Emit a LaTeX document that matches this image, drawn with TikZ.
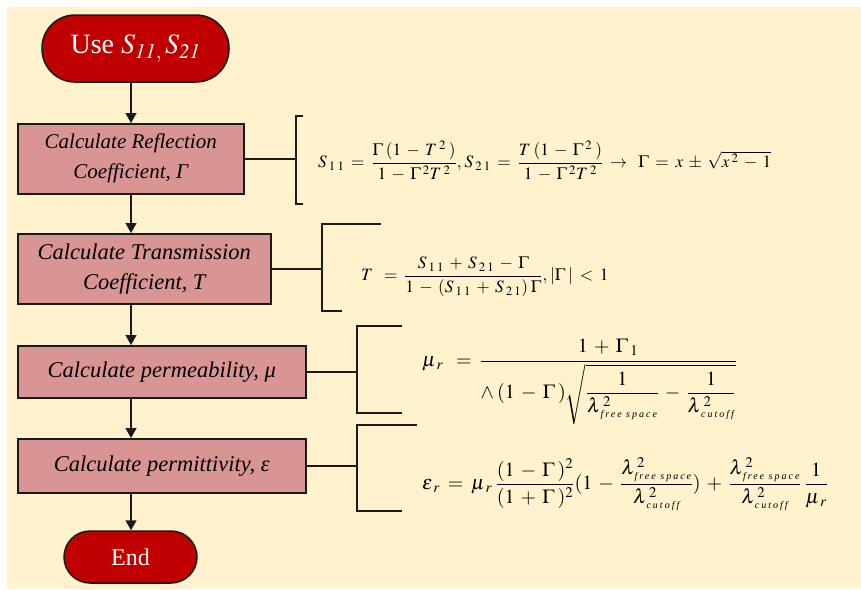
\documentclass[tikz,border=0pt]{standalone}
\usepackage{amsmath}
\usepackage{mathptmx}
\usepackage[no-math]{fontspec}
\setmainfont{Liberation Serif}
\usetikzlibrary{arrows.meta, positioning, calc}
\definecolor{termred}{HTML}{C00000}
\definecolor{boxpink}{HTML}{D99594}
\definecolor{cream}{HTML}{FFF2CC}
\definecolor{edge}{HTML}{1A1A1A}
\newcommand{\lsub}[1]{\text{\fontsize{10}{10}\selectfont\itshape\addfontfeature{LetterSpace=20}#1}}
\newcommand{\wideops}{\thickmuskip=7mu plus 2mu\medmuskip=5.5mu plus 2mu\thinmuskip=3mu}

\begin{document}
\begin{tikzpicture}[
      x=1pt, y=-1pt,
      term/.style={rectangle, draw=edge, line width=1.5pt, fill=termred, text=white,
                   inner sep=0pt, font=\fontsize{28}{30}\selectfont},
      box/.style={rectangle, draw=edge, line width=1.5pt, fill=boxpink, align=center,
                  inner sep=0pt, anchor=north west, font=\itshape\fontsize{22.5}{30}\selectfont},
      eqn/.style={anchor=west, inner sep=0pt, font=\fontsize{17.3}{20}\selectfont\wideops},
      bigeqn/.style={eqn, font=\fontsize{20}{22}\selectfont\wideops},
      arr/.style={-{Triangle[length=10pt,width=11pt]}, line width=1.5pt, edge},
      link/.style={line width=1.5pt, edge}
    ]
      \fill[cream] (7,7) rectangle (861,589);
      \useasboundingbox (0,0) rectangle (861,589);

      % flow column
      \node[term, minimum width=187pt, minimum height=67pt, rounded corners=33pt] (start) at (135.5,48.5)
        {Use $S_{\mathit{11},}\,S_{\mathit{21}}$};
      \node[box, minimum width=226pt, minimum height=70pt, font=\itshape\fontsize{21}{30}\selectfont] (refl) at (17,123)
        {Calculate Reflection\\Coefficient, Γ};
      \node[box, minimum width=253pt, minimum height=70pt] (trans) at (17,233)
        {Calculate Transmission\\Coefficient, T};
      \node[box, minimum width=288pt, minimum height=52pt] (perm) at (17,345)
        {Calculate permeability, μ};
      \node[box, minimum width=288pt, minimum height=54pt] (pmtv) at (17,438)
        {Calculate permittivity, ε};
      \node[term, minimum width=133pt, minimum height=52pt, rounded corners=26pt,
            font=\fontsize{24}{26}\selectfont] (stop) at (130.5,557) {End};

      \coordinate (spine) at (131,0);
      \draw[arr] (start.south -| spine) -- (refl.north -| spine);
      \draw[arr] (refl.south -| spine) -- (trans.north -| spine);
      \draw[arr] (trans.south -| spine) -- (perm.north -| spine);
      \draw[arr] (perm.south -| spine) -- (pmtv.north -| spine);
      \draw[arr] (pmtv.south -| spine) -- (stop.north -| spine);

      % brackets
      \coordinate (k1t) at (296,116); \coordinate (k1b) at (296,204);
      \coordinate (k2t) at (322,224); \coordinate (k2b) at (322,311);
      \coordinate (k3t) at (357,326); \coordinate (k3b) at (357,413);
      \coordinate (k4t) at (357,425); \coordinate (k4b) at (357,511);
      \draw[link] (refl.east) -- (refl.east -| k1t);
      \draw[link] (trans.east) -- (trans.east -| k2t);
      \draw[link] (perm.east) -- (perm.east -| k3t);
      \draw[link] (pmtv.east) -- (pmtv.east -| k4t);
      \draw[link] ($(k1t)+(7,0)$) -- (k1t) -- (k1b) -- ++(7,0);
      \draw[link] ($(k2t)+(59,0)$) -- (k2t) -- (k2b) -- ++(20,0);
      \draw[link] ($(k3t)+(45,0)$) -- (k3t) -- (k3b) -- ++(45,0);
      \draw[link] ($(k4t)+(60,0)$) -- (k4t) -- (k4b) -- ++(45,0);

      % equations
      \node[eqn] (eq1) at (318,161)
        {$S_{\,1\,1}=\dfrac{\Gamma\,(1-T^{\,2}\,)}{1-\Gamma^{\,2}T^{\,2}},S_{\,2\,1}=\dfrac{T\,(1-\Gamma^{\,2}\,)}{1-\Gamma^{\,2}T^{\,2}}\rightarrow\ \Gamma=x\pm\sqrt{x^{\,2}-1}$};
      \node[eqn] (eq2) at (361,277)
        {$T\ =\dfrac{S_{\,1\,1}+S_{\,2\,1}-\Gamma}{1-(S_{\,1\,1}+S_{\,2\,1})\,\Gamma},\left|\Gamma\,\right|<1$};
      \node[bigeqn] (eq3) at (422,382)
        {$\mu_{\,r}\ =\dfrac{1+\Gamma_{\,1}}{\wedge\,(1-\Gamma\,)\sqrt{\dfrac{1}{\lambda^{\,2}_{\,\lsub{free space}}}-\dfrac{1}{\lambda^{\,2}_{\,\lsub{cutoff}}}}}$};
      \node[bigeqn] (eq4) at (422,484)
        {$\varepsilon_{\,r}=\mu_{\,r}\,\dfrac{(1-\Gamma\,)^{2}}{(1+\Gamma\,)^{2}}(1-\dfrac{\lambda^{\,2}_{\,\lsub{free space}}}{\lambda^{\,2}_{\,\lsub{cutoff}}})+\dfrac{\lambda^{\,2}_{\,\lsub{free space}}}{\lambda^{\,2}_{\,\lsub{cutoff}}}\,\dfrac{1}{\mu_{\,r}}$};
    \end{tikzpicture}
\end{document}
